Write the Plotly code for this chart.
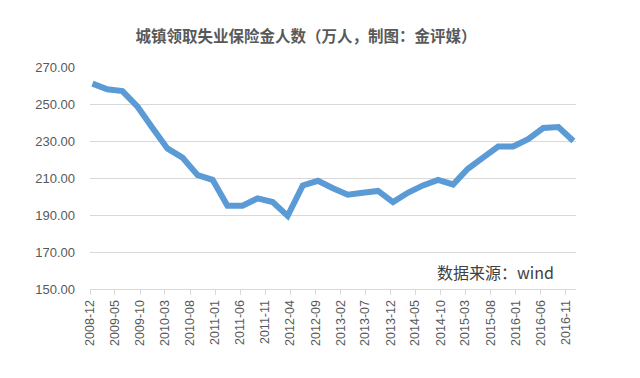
import plotly.graph_objects as go

months = ["2008-12", "2009-03", "2009-06", "2009-09", "2009-12", "2010-03", "2010-06",
          "2010-09", "2010-12", "2011-03", "2011-06", "2011-09", "2011-12", "2012-03",
          "2012-06", "2012-09", "2012-12", "2013-03", "2013-06", "2013-09", "2013-12",
          "2014-03", "2014-06", "2014-09", "2014-12", "2015-03", "2015-06", "2015-09",
          "2015-12", "2016-03", "2016-06", "2016-09", "2016-12"]
values = [261, 258, 257, 248.5, 237, 226, 221, 211.5, 209, 195, 195, 199, 197, 189.5,
          206, 208.5, 204.5, 201, 202, 203, 197, 202, 206, 209, 206.5, 215, 221, 227,
          227, 231, 237, 237.5, 230]
tick_labels = ["2008-12", "2009-05", "2009-10", "2010-03", "2010-08", "2011-01", "2011-06",
               "2011-11", "2012-04", "2012-09", "2013-02", "2013-07", "2013-12", "2014-05",
               "2014-10", "2015-03", "2015-08", "2016-01", "2016-06", "2016-11"]
y_ticks = [150, 170, 190, 210, 230, 250, 270]

x = [m + "-16" for m in months]

fig = go.Figure()
fig.add_trace(go.Scatter(
    x=x, y=values, mode="lines",
    line=dict(color="#5B9BD5", width=6),
    hoverinfo="x+y",
))

fig.update_layout(
    width=640, height=378,
    margin=dict(l=82, r=72, t=59, b=97),
    paper_bgcolor="white", plot_bgcolor="white",
    showlegend=False,
    font=dict(family="Noto Sans CJK SC, Noto Sans, sans-serif", color="#595959"),
    title=dict(
        text="<b>城镇领取失业保险金人数（万人，制图：金评媒）</b>",
        x=(306 - 90) / (576 - 90), xref="paper", xanchor="center",
        y=1 - 29 / 378, yref="container", yanchor="middle",
        font=dict(size=15.5, color="#595959", family="Noto Sans CJK SC"),
    ),
    xaxis=dict(
        type="date",
        range=["2008-12-01", "2017-01-01"],
        tickvals=[t + "-01" for t in tick_labels],
        ticktext=tick_labels,
        tickangle=-90,
        tickfont=dict(size=12.5, color="#595959", family="Liberation Sans, Arial, sans-serif"),
        showgrid=False,
        showline=True, linecolor="#D9D9D9", linewidth=1,
        ticks="outside", ticklen=5, tickcolor="#D9D9D9",
        zeroline=False,
    ),
    yaxis=dict(
        range=[150, 270],
        tickvals=y_ticks,
        ticktext=[f"{v:.2f}" for v in y_ticks],
        tickfont=dict(size=13, color="#595959", family="Liberation Sans, Arial, sans-serif"),
        showgrid=True, gridcolor="#D9D9D9", gridwidth=1,
        showline=False, zeroline=False,
        ticks="", ticklabelstandoff=14,
    ),
    annotations=[dict(
        text="数据来源：wind",
        xref="paper", yref="paper",
        x=(556 - 90) / (576 - 90), y=(289 - 272) / (289 - 67),
        xanchor="right", yanchor="middle",
        showarrow=False,
        font=dict(size=16, color="#404040", family="Noto Sans CJK SC"),
    )],
)

fig.write_html("out.html")
